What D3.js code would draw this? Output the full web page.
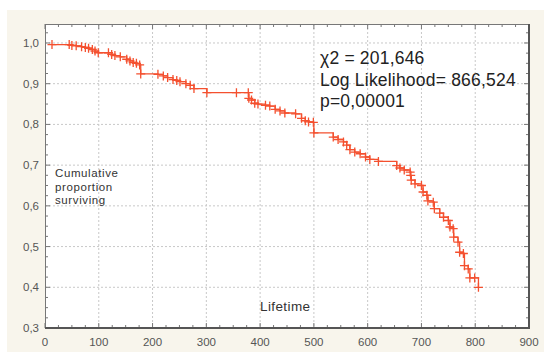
<!DOCTYPE html>
<html><head><meta charset="utf-8">
<script src="https://cdn.jsdelivr.net/npm/d3@7"></script>
<style>body{margin:0;background:#fff}svg{display:block}text{font-family:"Liberation Sans",Arial,sans-serif}</style>
</head><body>
<svg id="c" width="544" height="352"></svg>
<script>
const xTicks = [0,100,200,300,400,500,600,700,800,900];
const yTicks = [0.3,0.4,0.5,0.6,0.7,0.8,0.9,1.0];
const times = [13,45,50,58,68,75,81,88,93,99,118,124,130,140,152,158,164,170,176,178,210,220,228,238,245,251,262,270,277,301,356,378,379,384,390,396,410,418,428,437,446,466,477,484,490,499,500,536,545,555,561,567,576,586,596,604,620,654,660,668,679,680,681,688,700,703,710,712,722,724,734,741,750,753,759,760,768,771,778,780,787,790,799,806];
const surv  = [0.996,0.996,0.994,0.993,0.991,0.989,0.987,0.984,0.980,0.976,0.976,0.972,0.969,0.966,0.960,0.956,0.952,0.950,0.946,0.924,0.923,0.919,0.915,0.910,0.908,0.905,0.900,0.896,0.888,0.878,0.878,0.878,0.864,0.860,0.852,0.850,0.847,0.845,0.837,0.833,0.828,0.826,0.815,0.809,0.806,0.805,0.779,0.769,0.763,0.757,0.749,0.738,0.732,0.728,0.720,0.714,0.709,0.699,0.693,0.688,0.683,0.675,0.663,0.654,0.650,0.634,0.626,0.612,0.609,0.593,0.582,0.572,0.564,0.548,0.544,0.523,0.511,0.486,0.483,0.453,0.445,0.423,0.423,0.400];
const statLines = ["\u03c72 = 201,646","Log Likelihood= 866,524","p=0,00001"];
const yLabel = ["Cumulative","proportion","surviving"];
const xLabel = "Lifetime";

const svg = d3.select("#c");
const L=45,T=24,R=529,B=328;
const x = d3.scaleLinear().domain([0,900]).range([L,R]);
const y = d3.scaleLinear().domain([0.3,1.0466]).range([B,T]);
const fmt = d => d3.format(".1f")(d).replace(".",",");

svg.append("rect").attr("x",7).attr("y",10).attr("width",537).attr("height",342).attr("fill","#f8f5ec");
svg.append("rect").attr("x",L).attr("y",T).attr("width",R-L).attr("height",B-T).attr("fill","#fff");

// grid
svg.append("g").selectAll("line").data(xTicks.slice(1,-1)).join("line")
  .attr("x1",d=>x(d)).attr("x2",d=>x(d)).attr("y1",T).attr("y2",B)
  .attr("stroke","#c8c8c8").attr("stroke-dasharray","2,2");
svg.append("g").selectAll("line").data(yTicks.slice(1)).join("line")
  .attr("y1",d=>y(d)).attr("y2",d=>y(d)).attr("x1",L).attr("x2",R)
  .attr("stroke","#c8c8c8").attr("stroke-dasharray","2,2");

// minor ticks
const xMinor = d3.range(0,901,25), yMinor = d3.range(0.3,1.046,0.025);
const tk = svg.append("g").attr("stroke","#777");
xMinor.forEach(v=>{const len=(v%100===0)?5:3;
  tk.append("line").attr("x1",x(v)).attr("x2",x(v)).attr("y1",B).attr("y2",B-len);
  tk.append("line").attr("x1",x(v)).attr("x2",x(v)).attr("y1",T).attr("y2",T+len);});
yMinor.forEach(v=>{const len=(Math.abs(v*10-Math.round(v*10))<1e-6)?5:3;
  tk.append("line").attr("y1",y(v)).attr("y2",y(v)).attr("x1",L).attr("x2",L+len);
  tk.append("line").attr("y1",y(v)).attr("y2",y(v)).attr("x1",R).attr("x2",R-len);});

// frame
svg.append("line").attr("x1",L).attr("x2",R).attr("y1",T+0.5).attr("y2",T+0.5).attr("stroke","#777");
svg.append("line").attr("x1",L+0.5).attr("x2",L+0.5).attr("y1",T).attr("y2",B).attr("stroke","#777");
svg.append("line").attr("x1",R).attr("x2",R).attr("y1",T).attr("y2",B+1).attr("stroke","#555").attr("stroke-width",2);
svg.append("line").attr("x1",L).attr("x2",R+1).attr("y1",B).attr("y2",B).attr("stroke","#555").attr("stroke-width",2);

// axis labels
svg.append("g").selectAll("text").data(xTicks).join("text")
  .attr("x",d=>x(d)).attr("y",346).attr("text-anchor","middle")
  .attr("font-size",11.5).attr("fill","#555").text(d=>d);
svg.append("g").selectAll("text").data(yTicks).join("text")
  .attr("x",39).attr("y",d=>y(d)+4).attr("text-anchor","end")
  .attr("font-size",11.5).attr("fill","#555").text(fmt);

// curve
const pts = times.map((t,i)=>[t,surv[i]]);
const color = "#f4502f";
svg.append("path").datum(pts)
  .attr("d",d3.line().x(d=>x(d[0])).y(d=>y(d[1])).curve(d3.curveStepAfter))
  .attr("fill","none").attr("stroke",color).attr("stroke-width",1.3);
svg.append("g").selectAll("path").data(pts).join("path")
  .attr("d",d=>`M${x(d[0])-4.5},${y(d[1])}h9M${x(d[0])},${y(d[1])-4.5}v9`)
  .attr("stroke",color).attr("stroke-width",1.3);

// texts
svg.append("g").selectAll("text").data(statLines).join("text")
  .attr("x",320).attr("y",(d,i)=>64+i*21.5).attr("font-size",17.5).attr("letter-spacing",0.2)
  .attr("fill","#222").text(d=>d);
svg.append("g").selectAll("text").data(yLabel).join("text")
  .attr("x",55).attr("y",(d,i)=>177+i*13.5).attr("font-size",11.5).attr("letter-spacing",0.6)
  .attr("fill","#333").text(d=>d);
svg.append("text").attr("x",260).attr("y",311).attr("font-size",13.5).attr("letter-spacing",0.4)
  .attr("fill","#333").text(xLabel);
</script>
</body></html>
